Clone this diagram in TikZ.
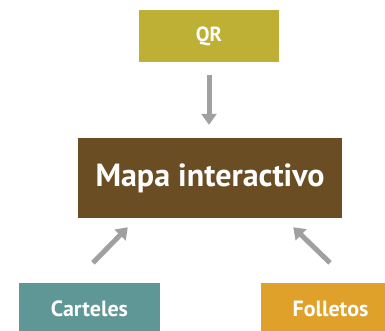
\documentclass[tikz,border=0pt]{standalone}
\usepackage{fontspec}
\setmainfont{PT Sans}
\usetikzlibrary{arrows.meta,positioning,calc}
\definecolor{qrcol}{RGB}{189,176,52}
\definecolor{mapacol}{RGB}{107,77,35}
\definecolor{cartcol}{RGB}{95,150,150}
\definecolor{follcol}{RGB}{224,161,42}
\definecolor{flechacol}{RGB}{160,160,160}
\tikzset{
    caja/.style={
        rectangle,
        inner sep=0pt,
        text=white,
        font=\bfseries,
    },
    flecha/.style={
        draw=flechacol,
        line width=5pt,
        -{Triangle[length=11pt,width=15pt]},
    },
}

\begin{document}
\begin{tikzpicture}[x=1pt,y=-1pt]
                        \useasboundingbox (0,0) rectangle (385,331);
                        \clip (0,0) rectangle (385,331);
                        \node [caja, fill=qrcol, minimum width=140pt, minimum height=52pt, font=\bfseries\fontsize{20.5}{24}\selectfont] at (209,36) (qr) {QR};
                        \node [caja, fill=mapacol, minimum width=264pt, minimum height=80pt, font=\bfseries\fontsize{32}{36}\selectfont] at (210,178) (mapa) {Mapa interactivo};
                        \node [caja, fill=cartcol, minimum width=141pt, minimum height=52pt, font=\bfseries\fontsize{22}{26}\selectfont] at (89.5,309) (carteles) {Carteles};
                        \node [caja, fill=follcol, minimum width=139pt, minimum height=52pt, font=\bfseries\fontsize{22}{26}\selectfont] at (330.5,309) (folletos) {Folletos};
                        \coordinate (c1) at ($(carteles.north)+(3.5,-20)$);
                        \coordinate (c2) at ($(mapa.south west)+(50,9)$);
                        \coordinate (f1) at ($(folletos.north)+(-0.5,-20)$);
                        \coordinate (f2) at ($(mapa.south east)+(-49,9)$);
                        \draw [flecha, shorten <=13pt, shorten >=13pt] (qr.south) -- (qr.south |- mapa.north);
                        \draw [flecha] (c1) -- (c2);
                        \draw [flecha] (f1) -- (f2);
\end{tikzpicture}
\end{document}
